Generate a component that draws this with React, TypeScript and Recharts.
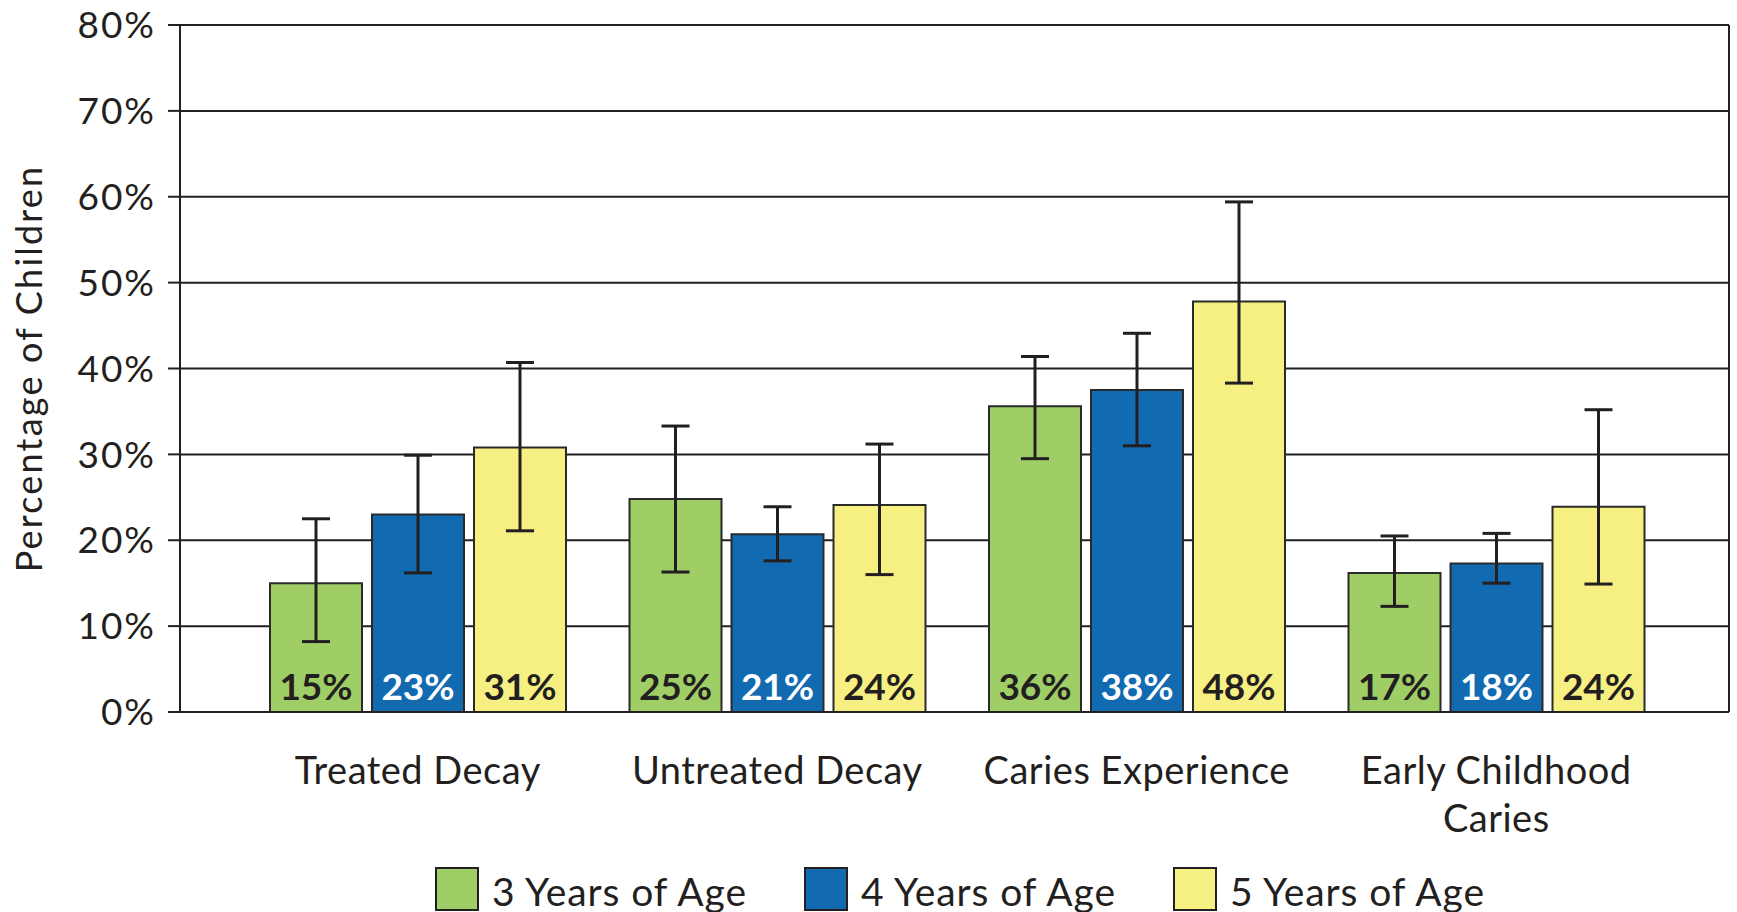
import React from 'react';
import { BarChart, Bar, XAxis, YAxis, CartesianGrid, ErrorBar, LabelList, Legend, Label } from 'recharts';

const categories = ['Treated Decay', 'Untreated Decay', 'Caries Experience', 'Early Childhood\nCaries'];
const seriesNames = ['3 Years of Age', '4 Years of Age', '5 Years of Age'];

const age3 = [15.0, 24.8, 35.6, 16.2];
const age4 = [23.0, 20.7, 37.5, 17.3];
const age5 = [30.8, 24.1, 47.8, 23.9];

const age3Low = [8.2, 16.3, 29.5, 12.3];
const age3High = [22.5, 33.3, 41.4, 20.5];
const age4Low = [16.2, 17.6, 31.0, 15.0];
const age4High = [29.9, 23.9, 44.1, 20.8];
const age5Low = [21.1, 16.0, 38.3, 14.9];
const age5High = [40.7, 31.2, 59.4, 35.2];

const age3Labels = [15, 25, 36, 17];
const age4Labels = [23, 21, 38, 18];
const age5Labels = [31, 24, 48, 24];

const yTicks = [0, 10, 20, 30, 40, 50, 60, 70, 80];

const COLORS = ['#A0CE66', '#126AB1', '#F6F083'];
const LABEL_COLORS = ['#231F20', '#FFFFFF', '#231F20'];
const INK = '#231F20';
const FONT = 'Lato, "Open Sans", sans-serif';

const data = categories.map((name, i) => ({
  name,
  a3: age3[i],
  a4: age4[i],
  a5: age5[i],
  e3: [age3[i] - age3Low[i], age3High[i] - age3[i]],
  e4: [age4[i] - age4Low[i], age4High[i] - age4[i]],
  e5: [age5[i] - age5Low[i], age5High[i] - age5[i]],
  l3: `${age3Labels[i]}%`,
  l4: `${age4Labels[i]}%`,
  l5: `${age5Labels[i]}%`,
}));

const XTick = (props: any) => {
  const { x, y, payload } = props;
  const lines = String(payload.value).split('\n');
  return (
    <g>
      <text x={x} y={y} textAnchor="middle" fontFamily={FONT} fontSize={38} letterSpacing={0.5} fill={INK}>
        {lines.map((l, i) => (
          <tspan key={i} x={x} dy={i === 0 ? 72 : 48}>
            {l}
          </tspan>
        ))}
      </text>
    </g>
  );
};

const makeBarLabel = (color: string) => (props: any) => {
  const { x, y, width, height, value } = props;
  return (
    <text
      x={Number(x) + Number(width) / 2}
      y={Number(y) + Number(height) - 12}
      textAnchor="middle"
      fontFamily={FONT}
      fontWeight={700}
      fontSize={37}
      fill={color}
    >
      {value}
    </text>
  );
};

const renderYLabel = (props: any) => {
  const vb = props.viewBox || {};
  const cx = (vb.x || 0) + 28;
  const cy = (vb.y || 0) + (vb.height || 0) / 2;
  return (
    <text
      x={cx}
      y={cy}
      transform={`rotate(-90 ${cx} ${cy})`}
      textAnchor="middle"
      dominantBaseline="central"
      fontFamily={FONT}
      fontSize={36}
      letterSpacing={2.2}
      fill={INK}
    >
      Percentage of Children
    </text>
  );
};

const renderLegend = (props: any) => {
  const payload = props.payload || [];
  return (
    <div style={{ display: 'flex', alignItems: 'center', height: 46, paddingLeft: 435, boxSizing: 'border-box' }}>
      {payload.map((p: any, i: number) => (
        <div key={i} style={{ display: 'flex', alignItems: 'center', width: 369, flex: '0 0 auto' }}>
          <div
            style={{
              width: 40,
              height: 40,
              background: p.color,
              border: `2px solid ${INK}`,
              marginRight: 13,
              boxSizing: 'content-box',
            }}
          />
          <span
            style={{
              fontFamily: FONT,
              fontSize: 39,
              letterSpacing: 0.9,
              color: INK,
              lineHeight: '46px',
              whiteSpace: 'nowrap',
              marginTop: 4,
            }}
          >
            {p.value}
          </span>
        </div>
      ))}
    </div>
  );
};

export default function App() {
  return (
    <div style={{ position: 'absolute', left: 0, top: 0, width: 1737, height: 912, background: '#fff' }}>
      <BarChart
        width={1737}
        height={912}
        data={data}
        margin={{ top: 25, right: 0, bottom: 0, left: 0 }}
        barGap={10}
      >
        <CartesianGrid vertical={false} stroke={INK} strokeWidth={2} />
        <XAxis
          dataKey="name"
          interval={0}
          padding={{ left: 58, right: 53 }}
          axisLine={{ stroke: INK, strokeWidth: 2 }}
          tickLine={false}
          tickSize={0}
          tickMargin={0}
          height={154}
          tick={<XTick />}
        />
        <YAxis
          domain={[0, 80]}
          ticks={yTicks}
          interval={0}
          tickFormatter={(v: number) => `${v}%`}
          width={180}
          axisLine={{ stroke: INK, strokeWidth: 2 }}
          tickLine={{ stroke: INK, strokeWidth: 2 }}
          tickSize={12}
          tickMargin={12}
          tick={{ fill: INK, fontSize: 37, fontFamily: FONT, letterSpacing: 2 }}
        >
          <Label content={renderYLabel} />
        </YAxis>
        <YAxis
          yAxisId="right"
          orientation="right"
          domain={[0, 80]}
          tick={false}
          tickLine={false}
          width={8}
          axisLine={{ stroke: INK, strokeWidth: 2 }}
        />
        <Legend verticalAlign="bottom" align="left" content={renderLegend} wrapperStyle={{ left: 0, width: 1737 }} />
        <Bar dataKey="a3" name={seriesNames[0]} fill={COLORS[0]} stroke="#2a2a2a" strokeWidth={2} barSize={92} isAnimationActive={false}>
          <ErrorBar dataKey="e3" direction="y" width={14} stroke={INK} strokeWidth={3} />
          <LabelList dataKey="l3" content={makeBarLabel(LABEL_COLORS[0])} />
        </Bar>
        <Bar dataKey="a4" name={seriesNames[1]} fill={COLORS[1]} stroke="#2a2a2a" strokeWidth={2} barSize={92} isAnimationActive={false}>
          <ErrorBar dataKey="e4" direction="y" width={14} stroke={INK} strokeWidth={3} />
          <LabelList dataKey="l4" content={makeBarLabel(LABEL_COLORS[1])} />
        </Bar>
        <Bar dataKey="a5" name={seriesNames[2]} fill={COLORS[2]} stroke="#2a2a2a" strokeWidth={2} barSize={92} isAnimationActive={false}>
          <ErrorBar dataKey="e5" direction="y" width={14} stroke={INK} strokeWidth={3} />
          <LabelList dataKey="l5" content={makeBarLabel(LABEL_COLORS[2])} />
        </Bar>
      </BarChart>
    </div>
  );
}
